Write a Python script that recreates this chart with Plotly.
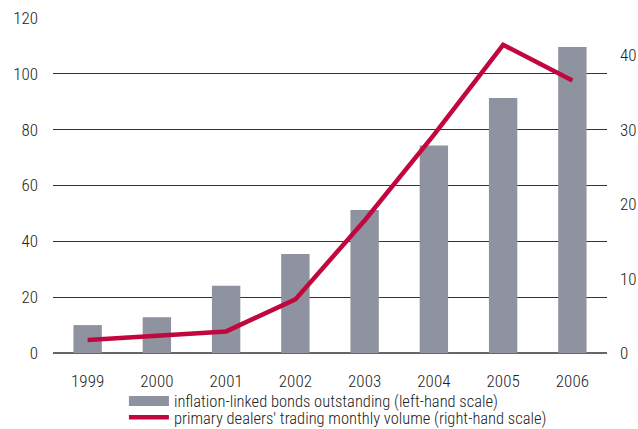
import plotly.graph_objects as go

years = ["1999", "2000", "2001", "2002", "2003", "2004", "2005", "2006"]
bonds_outstanding = [10.0, 12.8, 24.1, 35.5, 51.2, 74.3, 91.3, 109.6]
trading_volume = [1.75, 2.3, 2.9, 7.2, 17.8, 29.3, 41.4, 36.6]
left_ticks = [0, 20, 40, 60, 80, 100, 120]
right_ticks = [0, 10, 20, 30, 40]

bar_name = "inflation-linked bonds outstanding (left-hand scale)"
line_name = "primary dealers' trading monthly volume (right-hand scale)"

GREY = "#8e939f"
RED = "#c2073f"
FONT = "Roboto Condensed, Liberation Sans Narrow, Arial Narrow, sans-serif"

fig = go.Figure()
fig.add_trace(go.Bar(x=years, y=bonds_outstanding, marker=dict(color=GREY, line=dict(width=0)),
                     showlegend=False, yaxis="y", hoverinfo="skip"))
# legend proxy for bars (wide grey block)
fig.add_trace(go.Scatter(x=[None], y=[None], mode="lines", name=bar_name,
                         line=dict(color=GREY, width=12), yaxis="y", legend="legend"))
fig.add_trace(go.Scatter(x=years, y=trading_volume, mode="lines", name=line_name,
                         line=dict(color=RED, width=4.5), yaxis="y2", legend="legend2",
                         hoverinfo="skip"))

leg_common = dict(orientation="v", xanchor="left", yanchor="top",
                  bgcolor="rgba(0,0,0,0)", font=dict(size=16.5, weight=300), itemwidth=40,
                  borderwidth=0)

fig.update_layout(
    width=638, height=429,
    margin=dict(l=53, r=31, t=18, b=76, autoexpand=False),
    paper_bgcolor="white", plot_bgcolor="white",
    font=dict(family=FONT, size=17, color="#222", weight=300),
    bargap=0.59,
    xaxis=dict(showgrid=False, showline=False, ticks="", ticklabelstandoff=16,
               tickfont=dict(size=17, weight=300)),
    yaxis=dict(range=[0, 120], tickvals=left_ticks, showgrid=True, gridcolor="#333",
               gridwidth=1, zeroline=True, zerolinecolor="#666", zerolinewidth=2,
               showline=False, ticks="", ticklabelstandoff=14),
    yaxis2=dict(range=[0, 45], tickvals=right_ticks, overlaying="y", side="right",
                showgrid=False, zeroline=False, showline=False, ticks="",
                ticklabelstandoff=12),
    legend=dict(x=0.128, y=-0.092, **leg_common),
    legend2=dict(x=0.128, y=-0.140, **leg_common),
)

fig.write_html("out.html", config={"displayModeBar": False},
               post_script="document.body.style.margin='0';document.body.style.padding='0';")
